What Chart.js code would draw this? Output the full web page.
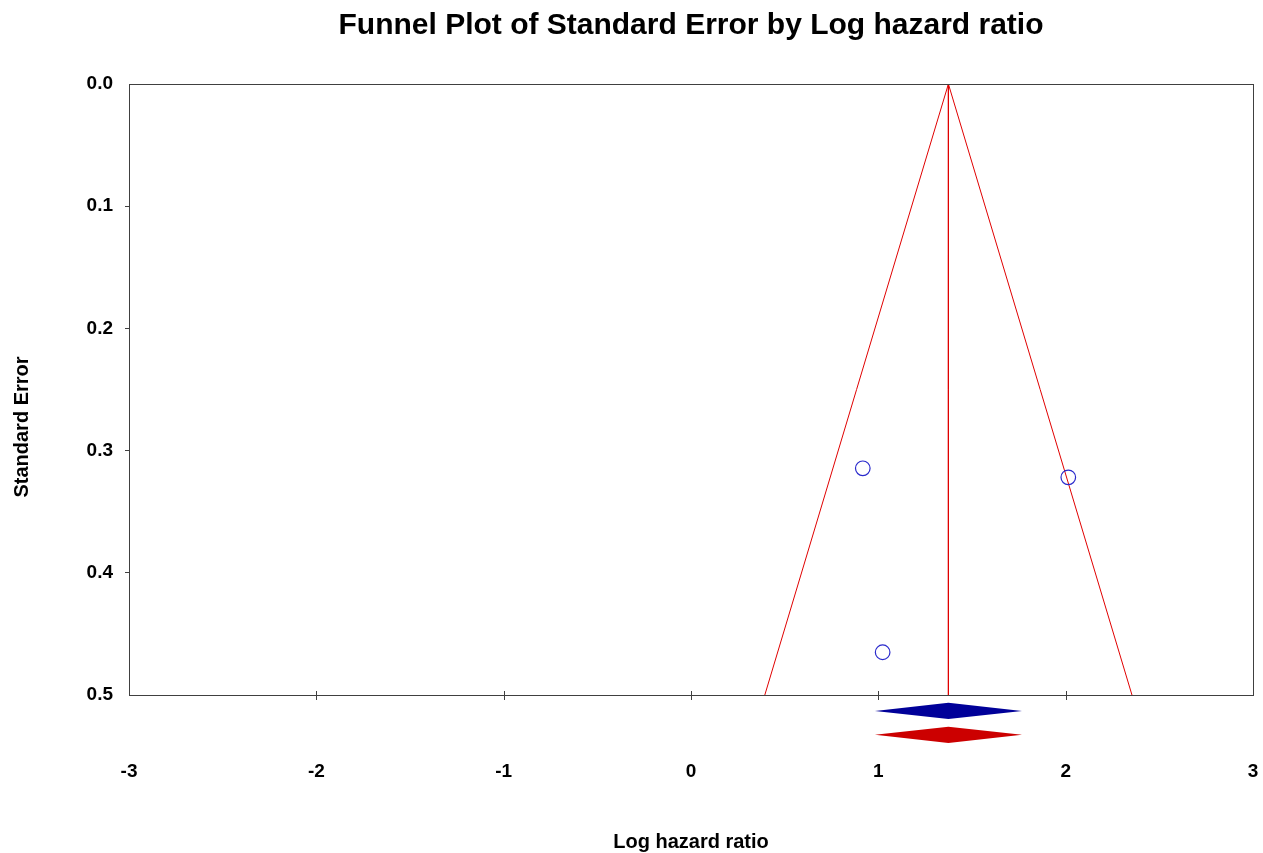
<!DOCTYPE html>
<html><head><meta charset="utf-8">
<script src="https://cdn.jsdelivr.net/npm/chart.js@4.4.0/dist/chart.umd.min.js"></script>
<style>html,body{margin:0;padding:0;background:#fff}canvas{display:block}</style>
</head><body>
<canvas id="c" width="1263" height="853"></canvas>
<script>
const titleText = "Funnel Plot of Standard Error by Log hazard ratio";
const xTitle = "Log hazard ratio";
const yTitle = "Standard Error";
const xTicks = [-3, -2, -1, 0, 1, 2, 3];
const yTicks = [0, 0.1, 0.2, 0.3, 0.4, 0.5];
const studyLogHR = [0.917, 2.014, 1.023];
const studySE = [0.3145, 0.3219, 0.465];
const funnelX = [0.394, 1.374, 2.354];
const funnelY = [0.5, 0, 0.5];
const centerX = [1.374, 1.374];
const centerY = [0, 0.5];
const diamondBlueX = [0.982, 1.374, 1.767, 1.374];
const diamondBlueY = [0.5131, 0.5063, 0.5131, 0.5196];
const diamondRedX = [0.982, 1.374, 1.767, 1.374];
const diamondRedY = [0.5325, 0.5259, 0.5325, 0.5393];

const FONT = '"Liberation Sans", Arial, sans-serif';
const toPts = (xs, ys) => xs.map((v, i) => ({x: v, y: ys[i]}));

const deco = {
  id: 'deco',
  afterDraw(chart) {
    const {ctx, chartArea: a, scales: {x, y}} = chart;
    ctx.save();
    [[diamondBlueX, diamondBlueY, '#000099'], [diamondRedX, diamondRedY, '#cc0000']].forEach(([xs, ys, c]) => {
      ctx.beginPath();
      xs.forEach((v, i) => {
        const px = x.getPixelForValue(v), py = y.getPixelForValue(ys[i]);
        if (i) ctx.lineTo(px, py); else ctx.moveTo(px, py);
      });
      ctx.closePath();
      ctx.fillStyle = c;
      ctx.fill();
    });
    ctx.strokeStyle = '#404040';
    ctx.lineWidth = 1;
    ctx.strokeRect(Math.round(a.left) + 0.5, Math.round(a.top) + 0.5, Math.round(a.right - a.left), Math.round(a.bottom - a.top));
    xTicks.slice(1, -1).forEach(v => {
      const px = Math.round(x.getPixelForValue(v)) + 0.5;
      ctx.beginPath();
      ctx.moveTo(px, a.bottom - 4);
      ctx.lineTo(px, a.bottom + 5);
      ctx.stroke();
    });
    ctx.fillStyle = '#000';
    ctx.textAlign = 'center';
    ctx.textBaseline = 'alphabetic';
    ctx.font = 'bold 30px ' + FONT;
    ctx.fillText(titleText, (a.left + a.right) / 2, 34);
    ctx.font = 'bold 20px ' + FONT;
    ctx.fillText(xTitle, (a.left + a.right) / 2, 848);
    ctx.translate(28, 427);
    ctx.rotate(-Math.PI / 2);
    ctx.fillText(yTitle, 0, 0);
    ctx.restore();
  }
};

new Chart(document.getElementById('c'), {
  type: 'scatter',
  data: {
    datasets: [
      {
        label: 'Studies',
        data: toPts(studyLogHR, studySE),
        pointStyle: 'circle',
        pointRadius: 7.3,
        pointBorderWidth: 1.2,
        pointBorderColor: '#2a2acc',
        pointBackgroundColor: 'rgba(0,0,0,0)',
        showLine: false
      },
      {
        label: 'Funnel',
        data: toPts(funnelX, funnelY),
        showLine: true,
        borderColor: '#e00000',
        borderWidth: 1,
        pointRadius: 0,
        fill: false
      },
      {
        label: 'Center',
        data: toPts(centerX, centerY),
        showLine: true,
        borderColor: '#e00000',
        borderWidth: 1,
        pointRadius: 0,
        fill: false
      }
    ]
  },
  options: {
    responsive: false,
    animation: false,
    devicePixelRatio: 1,
    layout: {padding: {top: 84, right: 10, left: 0, bottom: 0}},
    plugins: {legend: {display: false}, tooltip: {enabled: false}, title: {display: false}},
    scales: {
      x: {
        type: 'linear',
        min: -3, max: 3,
        afterBuildTicks: s => { s.ticks = xTicks.map(v => ({value: v})); },
        afterFit: s => { s.height = 158; s.paddingLeft = 0; s.paddingRight = 0; },
        ticks: {
          font: {family: FONT, size: 19, weight: 'bold'},
          color: '#000',
          padding: 65,
          maxRotation: 0,
          callback: v => String(v)
        },
        grid: {drawOnChartArea: false, drawTicks: false, display: true},
        border: {display: false}
      },
      y: {
        type: 'linear',
        reverse: true,
        min: 0, max: 0.5,
        afterBuildTicks: s => { s.ticks = yTicks.map(v => ({value: v})); },
        afterFit: s => { s.width = 129; s.paddingTop = 0; s.paddingBottom = 0; },
        ticks: {
          font: {family: FONT, size: 19, weight: 'bold'},
          color: '#000',
          padding: 12,
          callback: v => Number(v).toFixed(1)
        },
        grid: {
          drawOnChartArea: false,
          tickLength: 4,
          color: c => (c.tick && (c.tick.value === 0 || c.tick.value === 0.5)) ? 'rgba(0,0,0,0)' : '#404040'
        },
        border: {display: false}
      }
    }
  },
  plugins: [deco]
});
</script>
</body></html>
